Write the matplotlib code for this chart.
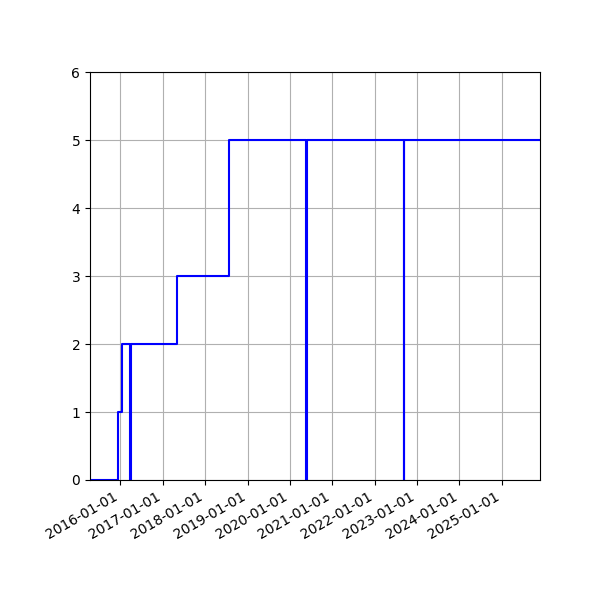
import numpy as np
import pandas as pd
import matplotlib
matplotlib.use("Agg")
import matplotlib.pyplot as plt
import matplotlib.dates as mdates

# step changes
dates = pd.to_datetime([
    "2015-04-15", "2015-12-10", "2016-01-20", "2016-03-22", "2016-03-30",
    "2017-05-05", "2018-07-25", "2020-05-22", "2020-05-29",
    "2022-09-07", "2022-09-11", "2025-11-25",
])
values = [0, 1, 2, 0, 2, 3, 5, 0, 5, 0, 5, 5]

fig, ax = plt.subplots(figsize=(6, 6), dpi=100)
ax.plot(dates, values, color="b", drawstyle="steps-post")

ax.set_xlim(dates[0], dates[-1])
ax.set_ylim(0, 6)
ax.xaxis.set_major_locator(mdates.YearLocator())
ax.xaxis.set_major_formatter(mdates.DateFormatter("%Y-%m-%d"))
ax.grid(True)
fig.autofmt_xdate()
fig.subplots_adjust(left=0.15, right=0.9, top=0.88, bottom=0.2)

fig.savefig("out.png")
